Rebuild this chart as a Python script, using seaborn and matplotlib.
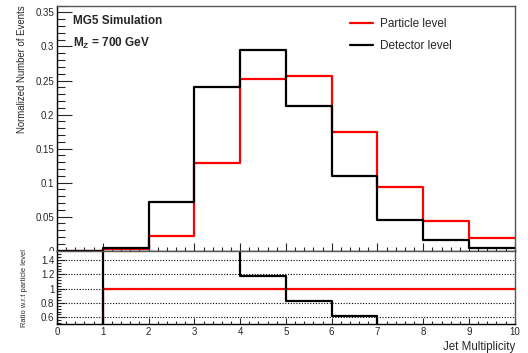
import numpy as np
import pandas as pd
import seaborn as sns
import matplotlib
matplotlib.use("Agg")
import matplotlib.pyplot as plt
from matplotlib.lines import Line2D
from matplotlib.ticker import MultipleLocator, FixedLocator
from matplotlib.transforms import Bbox, TransformedBbox

# ---- data ----
bin_edges = [0, 1, 2, 3, 4, 5, 6, 7, 8, 9, 10]
particle_level = [0.0, 0.002, 0.021, 0.129, 0.252, 0.257, 0.175, 0.093, 0.043, 0.018]
detector_level = [0.0, 0.004, 0.071, 0.240, 0.295, 0.213, 0.109, 0.045, 0.015, 0.0045]
series_labels = ["Particle level", "Detector level"]
series_colors = ["#ff0000", "#000000"]
top_yticks = [0, 0.05, 0.1, 0.15, 0.2, 0.25, 0.3, 0.35]
top_yticklabels = ["0", "0.05", "0.1", "0.15", "0.2", "0.25", "0.3", "0.35"]
ratio_yticks = [0.6, 0.8, 1.0, 1.2, 1.4]
ratio_yticklabels = ["0.6", "0.8", "1", "1.2", "1.4"]
xticks = list(range(0, 11))

edges = np.array(bin_edges, dtype=float)
centers = 0.5 * (edges[:-1] + edges[1:])
part = np.array(particle_level)
det = np.array(detector_level)
with np.errstate(divide="ignore", invalid="ignore"):
    ratio_det = np.where(part > 0, det / np.where(part > 0, part, 1), 0.0)
    ratio_part = np.where(part > 0, 1.0, 0.0)

df = pd.DataFrame({
    "x": np.concatenate([centers, centers]),
    "w": np.concatenate([part, det]),
    "r": np.concatenate([ratio_part, ratio_det]),
    "s": [series_labels[0]] * len(centers) + [series_labels[1]] * len(centers),
})

sns.set_style("ticks")
plt.rcParams["font.family"] = ["Liberation Sans", "DejaVu Sans"]
plt.rcParams["mathtext.fontset"] = "custom"
plt.rcParams["mathtext.rm"] = "Liberation Sans"
plt.rcParams["mathtext.bf"] = "Liberation Sans:bold"
plt.rcParams["mathtext.it"] = "Liberation Sans:italic"

fig = plt.figure(figsize=(5.28, 3.53), dpi=100)
L, R = 0.108, 0.975
ax = fig.add_axes([L, 0.290, R - L, 0.984 - 0.290])
axr = fig.add_axes([L, 0.081, R - L, 0.290 - 0.081])

for lab, col in zip(series_labels, series_colors):
    sub = df[df["s"] == lab]
    sns.histplot(data=sub, x="x", weights="w", bins=list(bin_edges), element="step",
                 fill=False, color=col, linewidth=1.6, ax=ax)
    sns.histplot(data=sub, x="x", weights="r", bins=list(bin_edges), element="step",
                 fill=False, color=col, linewidth=1.6, ax=axr)

for a in (ax, axr):
    a.set_xlim(0, 10)
    a.set_xlabel("")
    a.set_ylabel("")
    for sp in a.spines.values():
        sp.set_visible(True)
        sp.set_linewidth(1.0)
        sp.set_color("#555555")
    a.spines["left"].set_color("black")
    a.spines["bottom"].set_color("black")

ax.set_ylim(0, 0.36)
ax.yaxis.set_major_locator(FixedLocator(top_yticks))
ax.set_yticklabels(top_yticklabels)
ax.yaxis.set_minor_locator(MultipleLocator(0.01))
ax.xaxis.set_major_locator(FixedLocator(xticks))
ax.xaxis.set_minor_locator(MultipleLocator(0.2))
ax.tick_params(axis="x", which="both", direction="in", labelbottom=False)
ax.tick_params(axis="x", which="major", length=5.5, width=0.8)
ax.tick_params(axis="x", which="minor", length=3, width=0.8)
ax.tick_params(axis="y", which="major", direction="in", length=11, width=0.8,
               labelsize=7, pad=2)
ax.tick_params(axis="y", which="minor", direction="in", length=5.5, width=0.8)

axr.set_ylim(0.5, 1.53)
axr.yaxis.set_major_locator(FixedLocator(ratio_yticks))
axr.set_yticklabels(ratio_yticklabels)
axr.yaxis.set_minor_locator(MultipleLocator(0.04))
axr.xaxis.set_major_locator(FixedLocator(xticks))
axr.xaxis.set_minor_locator(MultipleLocator(0.2))
axr.tick_params(axis="x", which="major", direction="in", length=4, width=0.8,
                labelsize=7, pad=2)
axr.tick_params(axis="x", which="minor", direction="in", length=2.2, width=0.8)
axr.tick_params(axis="y", which="major", direction="in", length=5.5, width=0.8,
                labelsize=7, pad=2)
axr.tick_params(axis="y", which="minor", direction="in", length=3, width=0.8)
axr.yaxis.grid(True, which="major", linestyle=(0, (1, 1.5)), color="black",
               linewidth=0.8)

ax.set_ylabel("Normalized Number of Events", fontsize=6.9, loc="top")
ax.yaxis.set_label_coords(-0.066, 1.0)
axr.set_ylabel("Ratio w.r.t particle level", fontsize=5.4)
axr.yaxis.set_label_coords(-0.063, 0.5)
axr.set_xlabel("Jet Multiplicity", fontsize=8.3, loc="right", labelpad=3)

ax.text(0.035, 0.963, "MG5 Simulation", transform=ax.transAxes, fontsize=8.5,
        fontweight="bold", va="top", ha="left")
ax.text(0.035, 0.875, r"$\mathbf{M}_{\mathbf{Z}}$ = 700 GeV", transform=ax.transAxes,
        fontsize=8.5, fontweight="bold", va="top", ha="left")

handles = [Line2D([], [], color=c, lw=1.6) for c in series_colors]
ax.legend(handles, series_labels, loc="upper left", bbox_to_anchor=(0.617, 0.992),
          frameon=False, fontsize=8.5, handlelength=1.95, handletextpad=0.6,
          labelspacing=0.8)

fig.canvas.draw()
clip = TransformedBbox(Bbox([[0, 0.290], [1, 1]]), fig.transFigure)
for t in ax.yaxis.get_major_ticks():
    t.label1.set_clip_box(clip)
    t.label1.set_clip_on(True)

fig.savefig("out.png", dpi=100)
